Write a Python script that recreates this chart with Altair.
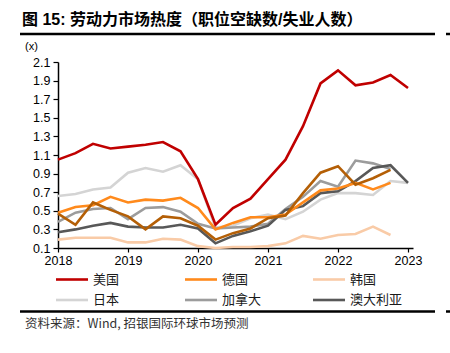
import altair as alt
import pandas as pd

# ---- data (quarterly, 2018Q1 onwards) ----
start_year = 2018
names = ["美国", "德国", "韩国", "日本", "加拿大", "澳大利亚", "英国"]
us = [1.05, 1.12, 1.22, 1.17, 1.19, 1.21, 1.24, 1.14, 0.84, 0.35, 0.53, 0.63, 0.84, 1.05, 1.41, 1.87, 2.01, 1.85, 1.88, 1.96, 1.82]
germany = [0.48, 0.54, 0.56, 0.65, 0.59, 0.62, 0.61, 0.64, 0.53, 0.30, 0.37, 0.43, 0.43, 0.46, 0.59, 0.72, 0.74, 0.80, 0.73, 0.80]
korea = [0.19, 0.21, 0.21, 0.21, 0.16, 0.16, 0.20, 0.19, 0.12, 0.10, 0.11, 0.11, 0.12, 0.15, 0.23, 0.20, 0.24, 0.25, 0.33, 0.24]
japan = [0.66, 0.68, 0.73, 0.75, 0.91, 0.96, 0.92, 0.99, 0.84, 0.32, 0.34, 0.42, 0.46, 0.41, 0.49, 0.62, 0.69, 0.69, 0.67, 0.82, 0.80]
canada = [0.38, 0.48, 0.52, 0.53, 0.41, 0.53, 0.54, 0.49, 0.36, 0.31, 0.32, 0.33, 0.36, 0.52, 0.65, 0.82, 0.76, 1.04, 1.01, 0.95]
australia = [0.27, 0.30, 0.34, 0.37, 0.33, 0.32, 0.32, 0.35, 0.31, 0.15, 0.23, 0.28, 0.34, 0.51, 0.55, 0.69, 0.71, 0.82, 0.96, 0.99, 0.80]
uk = [0.47, 0.35, 0.59, 0.51, 0.44, 0.30, 0.44, 0.42, 0.34, 0.19, 0.26, 0.31, 0.42, 0.45, 0.69, 0.91, 0.98, 0.78, 0.85, 0.94]
all_values = [us, germany, korea, japan, canada, australia, uk]
colors = ["#C00000", "#FF8A1C", "#F9CBA7", "#D4D4D4", "#9C9C9C", "#585858", "#B45F06"]
legend_names = names[:6]
y_ticks = [0.1, 0.3, 0.5, 0.7, 0.9, 1.1, 1.3, 1.5, 1.7, 1.9, 2.1]
x_ticks = [2018, 2019, 2020, 2021, 2022, 2023]

title_text = "图 15: 劳动力市场热度（职位空缺数/失业人数）"
source_text = "资料来源：Wind, 招银国际环球市场预测"

FONT = "Liberation Sans, Arial, 'Noto Sans CJK SC'"
CJK = "'Noto Sans CJK SC', 'Liberation Sans'"

rows = []
for n, vals in zip(names, all_values):
    for k, v in enumerate(vals):
        rows.append({"series": n, "t": start_year + k / 4, "v": v})
df = pd.DataFrame(rows)

W, H = 355, 186
x_scale = alt.Scale(domain=[2018, 2018 + W / 70], nice=False, zero=False)
y_scale = alt.Scale(domain=[0.1, 2.1], nice=False, zero=False)

x_axis = alt.Axis(values=x_ticks, format="d", title=None, grid=False,
                  domainColor="black", domainWidth=1.5, tickColor="black",
                  tickSize=4, tickWidth=1.2, labelFont=FONT, labelFontSize=12.5,
                  labelColor="black", labelPadding=2, labelFlush=False)
y_axis = alt.Axis(values=y_ticks, format=".1f", title=None, grid=False,
                  domainColor="black", domainWidth=1.5, tickColor="black",
                  tickSize=5, tickWidth=1.2, labelFont=FONT, labelFontSize=12.5,
                  labelColor="black", labelPadding=3)

layers = []
draw_order = [2, 3, 4, 5, 1, 6, 0]
for i in draw_order:
    n = names[i]
    layers.append(
        alt.Chart(df[df.series == n]).mark_line(color=colors[i], strokeWidth=2.6, clip=False)
        .encode(x=alt.X("t:Q", scale=x_scale, axis=x_axis),
                y=alt.Y("v:Q", scale=y_scale, axis=y_axis))
    )

one = pd.DataFrame({"a": [0]})

def text_layer(txt, x, y, size, weight="normal", font=CJK, color="black"):
    return alt.Chart(pd.DataFrame({"txt": [txt]})).mark_text(
        align="left", baseline="middle", fontSize=size, fontWeight=weight,
        font=font, color=color).encode(text="txt:N", x=alt.value(x), y=alt.value(y))

def rule_layer(x1, x2, y, w, color="black"):
    return alt.Chart(one).mark_rule(color=color, strokeWidth=w).encode(
        x=alt.value(x1), x2=alt.value(x2), y=alt.value(y))

OX, OY = 58, 62  # plot origin in page pixels
layers.append(text_layer(title_text, 22 - OX, 20 - OY, 16, "bold", font="'Liberation Sans', 'Noto Sans CJK SC'"))
layers.append(rule_layer(20 - OX, 435 - OX, 34 - OY, 2.5))
layers.append(rule_layer(446 - OX, 452 - OX, 34 - OY, 2.5))
layers.append(text_layer("(x)", 25 - OX, 47 - OY, 11, font=FONT))

col_x = [56, 185, 313]
row_y = [279.5, 300]
for j, n in enumerate(legend_names):
    cx = col_x[j % 3] - OX
    ry = row_y[j // 3] - OY
    layers.append(rule_layer(cx, cx + 32, ry, 2.6, colors[j]))
    layers.append(text_layer(n, cx + 37, ry, 13, color="#1a1a1a"))

layers.append(rule_layer(20 - OX, 435 - OX, 311.5 - OY, 2.5))
layers.append(rule_layer(446 - OX, 452 - OX, 311.5 - OY, 2.5))
layers.append(text_layer(source_text, 25 - OX, 324 - OY, 12.5, color="#333333"))

chart = alt.layer(*layers).properties(
    width=W, height=H,
    autosize=alt.AutoSizeParams(type="none"),
    padding={"left": OX, "top": OY, "right": 450 - OX - W, "bottom": 353 - OY - H},
    background="white",
).configure_view(stroke=None)

chart.save("out.html", embed_options={"renderer": "svg", "actions": False})
